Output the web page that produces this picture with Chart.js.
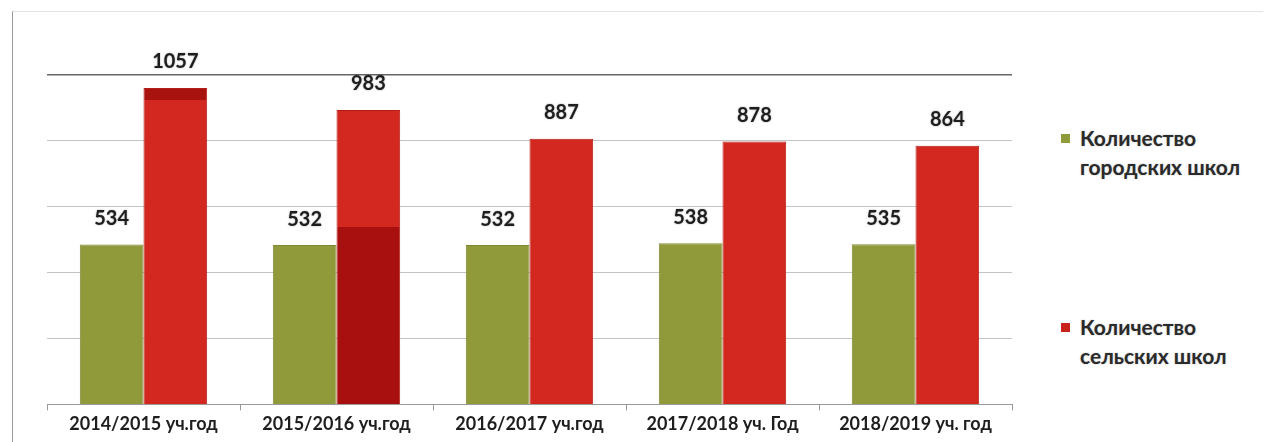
<!DOCTYPE html>
<html>
<head>
<meta charset="utf-8">
<script src="https://cdn.jsdelivr.net/npm/chart.js@4/dist/chart.umd.min.js"></script>
<style>
  body { margin: 0; background: #fff; width: 1268px; height: 442px; overflow: hidden; position: relative; font-family: Lato, "Open Sans", sans-serif; }
  #frame { position: absolute; left: 12px; top: 11px; width: 1250px; height: 440px; border-left: 1px solid #9a9a9a; border-top: 1px solid #e2e2e2; }
  #chartBox { position: absolute; left: 0; top: 0; width: 1030px; height: 442px; }
  .legend { position: absolute; left: 1061px; font-weight: bold; font-size: 21px; color: #2a2a2a; line-height: 29px; text-shadow: 0 0 2px rgba(0,0,0,0.25); }
  .legend .sw { position: absolute; left: 0; top: 11px; width: 9px; height: 9px; }
  .legend .tx { margin-left: 19px; }
</style>
</head>
<body>
<div id="frame"></div>
<div id="chartBox"><canvas id="schoolChart" width="1030" height="442"></canvas></div>
<div class="legend" id="legCity" style="top:123px"><span class="sw" style="background:#8f9a3a"></span><div class="tx">Количество<br>городских школ</div></div>
<div class="legend" id="legRural" style="top:312px"><span class="sw" style="background:#c8231b"></span><div class="tx">Количество<br>сельских школ</div></div>
<script>
const schoolYears = ['2014/2015 уч.год', '2015/2016 уч.год', '2016/2017 уч.год', '2017/2018 уч. Год', '2018/2019 уч. год'];
const citySchools = [534, 532, 532, 538, 535];
const ruralSchools = [1057, 983, 887, 878, 864];
const seriesNames = ['Количество городских школ', 'Количество сельских школ'];

const greenFill = '#919a3b';
const redFill = '#d2281f';

// the scan has a darker patch on two of the red bars
function redBarColor(ctx) {
    const area = ctx.chart.chartArea;
    if (!area) return redFill;
    const g = ctx.chart.ctx.createLinearGradient(0, area.bottom, 0, area.top);
    if (ctx.dataIndex === 1) {
        g.addColorStop(0, '#a80f0f');
        g.addColorStop(0.54, '#a80f0f');
        g.addColorStop(0.54, redFill);
        g.addColorStop(1, redFill);
        return g;
    }
    if (ctx.dataIndex === 0) {
        g.addColorStop(0, redFill);
        g.addColorStop(0.925, redFill);
        g.addColorStop(0.925, '#a8120f');
        g.addColorStop(1, '#a8120f');
        return g;
    }
    return redFill;
}

const valueLabels = {
    id: 'valueLabels',
    afterDatasetsDraw(chart) {
        const c = chart.ctx;
        c.save();
        c.font = 'bold 20px Lato, "Open Sans", sans-serif';
        c.fillStyle = '#1e1e1e';
        c.textAlign = 'center';
        c.textBaseline = 'middle';
        c.shadowColor = 'rgba(0,0,0,0.35)';
        c.shadowBlur = 2;
        chart.data.datasets.forEach((ds, i) => {
            chart.getDatasetMeta(i).data.forEach((bar, j) => {
                c.fillText(ds.data[j], bar.x, bar.y - 26);
            });
        });
        c.restore();
    }
};

new Chart(document.getElementById('schoolChart'), {
    type: 'bar',
    data: {
        labels: schoolYears,
        datasets: [
            { label: seriesNames[0], data: citySchools, backgroundColor: greenFill, borderColor: '#7f8832', borderWidth: 1 },
            { label: seriesNames[1], data: ruralSchools, backgroundColor: redBarColor, borderColor: '#b51d16', borderWidth: 1 }
        ]
    },
    options: {
        responsive: false,
        animation: false,
        layout: { padding: { left: 47, right: 18, top: 75, bottom: 4 } },
        datasets: { bar: { categoryPercentage: 0.66, barPercentage: 1 } },
        plugins: {
            legend: { display: false },
            tooltip: { enabled: false }
        },
        scales: {
            x: {
                grid: { drawOnChartArea: false, drawTicks: true, tickLength: 6, color: '#9a9a9a' },
                border: { color: '#9a9a9a' },
                ticks: { color: '#1e1e1e', padding: 3, font: { family: 'Lato', weight: 'bold', size: 18 } }
            },
            y: {
                min: 0,
                max: 1100,
                ticks: { display: false, stepSize: 220 },
                border: { display: false },
                grid: {
                    drawTicks: false,
                    color: ctx => ctx.tick.value === 1100 ? '#666' : (ctx.tick.value === 0 ? 'rgba(0,0,0,0)' : '#c4c4c4'),
                    lineWidth: ctx => ctx.tick.value === 1100 ? 1.5 : 1
                }
            }
        }
    },
    plugins: [valueLabels]
});
</script>
</body>
</html>
